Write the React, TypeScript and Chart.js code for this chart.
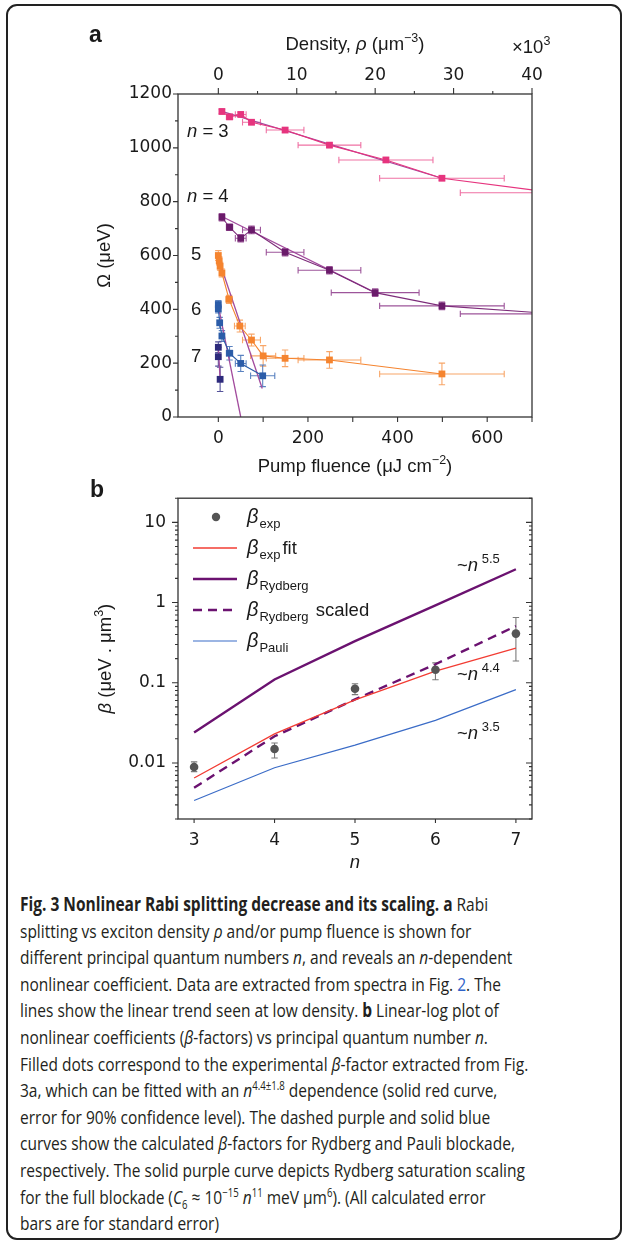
import React, { useEffect, useRef } from "react";
import { Chart, registerables } from "chart.js";
Chart.register(...registerables);

// ---------------- Panel a : Rabi splitting vs pump fluence ----------------
const fluenceMin = -90;
const fluenceMax = 700;
const densityMax = 40; // x10^3 µm^-3 at fluenceMax
const fluenceTicks = [0, 200, 400, 600];
const densityTicks = [0, 10, 20, 30, 40];
const omegaTicks = [0, 200, 400, 600, 800, 1000, 1200];

const n3Fluence = [8, 25, 50, 74, 149, 248, 374, 499, 750];
const n3Omega = [1135, 1115, 1124, 1095, 1066, 1010, 955, 887, 833];
const n3FluenceErr = [2, 7, 12, 20, 42, 70, 105, 139, 210];
const n3OmegaErr = [8, 8, 8, 8, 8, 8, 8, 8, 8];
const n3TrendFluence = [8, 499];
const n3TrendOmega = [1135, 887];

const n4Fluence = [8, 25, 50, 74, 149, 248, 350, 499, 750];
const n4Omega = [742, 705, 664, 695, 612, 545, 462, 413, 383];
const n4FluenceErr = [2, 7, 12, 20, 42, 70, 98, 139, 210];
const n4OmegaErr = [14, 12, 14, 14, 14, 14, 14, 14, 14];
const n4TrendFluence = [8, 350];
const n4TrendOmega = [745, 462];

const n5Fluence = [0, 2, 4, 8, 24, 48, 74, 100, 149, 248, 499];
const n5Omega = [600, 580, 560, 535, 437, 338, 286, 227, 218, 212, 160];
const n5FluenceErr = [0, 0, 0, 2, 7, 12, 20, 28, 42, 70, 139];
const n5OmegaErr = [18, 15, 15, 15, 15, 22, 22, 38, 31, 31, 40];
const n5TrendFluence = [0, 98];
const n5TrendOmega = [590, 106];

const n6Fluence = [0, 0, 3, 8, 25, 50, 99];
const n6Omega = [418, 402, 350, 301, 237, 199, 153];
const n6FluenceErr = [0, 0, 0, 2, 7, 12, 27];
const n6OmegaErr = [15, 15, 20, 20, 25, 30, 40];
const n6TrendFluence = [0, 50];
const n6TrendOmega = [412, 0];

const n7Fluence = [0, 0, 4];
const n7Omega = [259, 224, 140];
const n7OmegaErr = [20, 35, 45];
const n7TrendFluence = [0, 4];
const n7TrendOmega = [262, 140];

// ---------------- Panel b : beta factors vs n ----------------
const nTicks = [3, 4, 5, 6, 7];
const betaTicks = [0.01, 0.1, 1, 10];
const nValues = [3, 4, 5, 6, 7];
const betaExp = [0.0089, 0.0149, 0.084, 0.145, 0.41];
const betaExpLow = [0.0078, 0.0115, 0.071, 0.109, 0.187];
const betaExpHigh = [0.0103, 0.0177, 0.097, 0.177, 0.65];
const betaExpFit = [0.0065, 0.023, 0.061, 0.14, 0.27];
const betaRydberg = [0.024, 0.11, 0.33, 0.92, 2.6];
const betaRydbergScaled = [0.0049, 0.0215, 0.062, 0.17, 0.51];
const betaPauli = [0.0034, 0.0087, 0.0167, 0.034, 0.082];

// ---------------- layout / style ----------------
const W = 625;
const A_H = 490;
const A_AREA = { left: 178, right: 532, top: 94, bottom: 417 };
const B_TOP = 476;
const B_H = 400;
const B_AREA = { left: 178, right: 532, top: 496 - B_TOP, bottom: 819 - B_TOP };

const TXT = "#1a1a1a";
const AXIS = "#333333";
const TICK_FONT = { family: "'DejaVu Sans'", size: 17 };
const F = "18.5px 'Liberation Sans'";
const FI = "italic 18.5px 'Liberation Sans'";
const FS = "12.5px 'Liberation Sans'";
const FB = "italic 20px 'Liberation Sans'";
const FSUB = "13px 'Liberation Sans'";

const PINK = "#e6347e";
const PINK_ERR = "#ef72a4";
const PURPLE4 = "#6a1b6a";
const PURPLE4_LINE = "#7d2c7a";
const PURPLE4_ERR = "#9d559a";
const ORANGE = "#f5842f";
const ORANGE_ERR = "#f8a668";
const BLUE6 = "#2b5ca8";
const BLUE6_ERR = "#5a82c0";
const NAVY7 = "#2d2a7c";
const NAVY7_ERR = "#55539a";
const TREND = "#a24b9d";

const RED = "#f23c33";
const RYD = "#6b1270";
const PAULI = "#3b6cc7";
const DOT = "#555555";
const DOT_ERR = "#7a7a7a";

type Seg = [string, string, number?];

function drawRich(ctx: CanvasRenderingContext2D, segs: Seg[], x: number, y: number, align: "left" | "center") {
  let total = 0;
  for (const s of segs) {
    ctx.font = s[1];
    total += ctx.measureText(s[0]).width;
  }
  let cx = align === "center" ? x - total / 2 : x;
  ctx.textAlign = "left";
  for (const s of segs) {
    ctx.font = s[1];
    ctx.fillText(s[0], cx, y + (s[2] || 0));
    cx += ctx.measureText(s[0]).width;
  }
}

function pts(xs: number[], ys: number[]) {
  return xs.map((x, i) => ({ x, y: ys[i] }));
}

function drawErrorBars(chart: any) {
  const ctx: CanvasRenderingContext2D = chart.ctx;
  const { left, right, top, bottom } = chart.chartArea;
  ctx.save();
  ctx.beginPath();
  ctx.rect(left, top, right - left, bottom - top);
  ctx.clip();
  chart.data.datasets.forEach((ds: any) => {
    if (!ds.errY && !ds.errX && !ds.errLow) return;
    const xs = chart.scales[ds.xAxisID || "x"];
    const ys = chart.scales[ds.yAxisID || "y"];
    ctx.strokeStyle = ds.errColor;
    ctx.lineWidth = 1.1;
    const cap = 3.2;
    ds.data.forEach((p: any, i: number) => {
      const px = xs.getPixelForValue(p.x);
      const py = ys.getPixelForValue(p.y);
      let lo: number | undefined;
      let hi: number | undefined;
      if (ds.errY) {
        lo = p.y - ds.errY[i];
        hi = p.y + ds.errY[i];
      } else if (ds.errLow) {
        lo = ds.errLow[i];
        hi = ds.errHigh[i];
      }
      ctx.beginPath();
      if (lo !== undefined && hi !== undefined && hi > lo) {
        const y1 = ys.getPixelForValue(lo);
        const y2 = ys.getPixelForValue(hi);
        ctx.moveTo(px, y1);
        ctx.lineTo(px, y2);
        ctx.moveTo(px - cap, y1);
        ctx.lineTo(px + cap, y1);
        ctx.moveTo(px - cap, y2);
        ctx.lineTo(px + cap, y2);
      }
      if (ds.errX && ds.errX[i] > 0) {
        const x1 = xs.getPixelForValue(p.x - ds.errX[i]);
        const x2 = xs.getPixelForValue(p.x + ds.errX[i]);
        ctx.moveTo(x1, py);
        ctx.lineTo(x2, py);
        ctx.moveTo(x1, py - cap);
        ctx.lineTo(x1, py + cap);
        ctx.moveTo(x2, py - cap);
        ctx.lineTo(x2, py + cap);
      }
      ctx.stroke();
    });
  });
  ctx.restore();
}

const tickOpts = (padding: number) => ({
  font: TICK_FONT,
  color: TXT,
  padding,
  maxRotation: 0,
  minRotation: 0,
  autoSkip: false,
  callback: (v: any) => String(v),
});
const noGrid = { display: false, drawTicks: false, tickLength: 0 };

function squareMarkers(color: string) {
  return {
    pointStyle: "rect",
    pointRadius: 4.8,
    pointBackgroundColor: color,
    pointBorderColor: color,
    pointBorderWidth: 0,
  };
}

function trendLine(xs: number[], ys: number[]) {
  return {
    data: pts(xs, ys),
    showLine: true,
    borderColor: TREND,
    borderWidth: 1.3,
    pointRadius: 0,
    clip: 0,
  };
}

const panelAPlugin = {
  id: "panelA",
  beforeDatasetsDraw(chart: any) {
    drawErrorBars(chart);
  },
  afterDraw(chart: any) {
    const ctx: CanvasRenderingContext2D = chart.ctx;
    const { left, right, top, bottom } = chart.chartArea;
    const xs = chart.scales.x;
    const x2 = chart.scales.x2;
    const ys = chart.scales.y;
    ctx.save();
    ctx.strokeStyle = AXIS;
    ctx.lineWidth = 1.3;
    ctx.strokeRect(left, top, right - left, bottom - top);
    ctx.lineWidth = 1.1;
    ctx.beginPath();
    for (let v = 0; v <= fluenceMax; v += 100) {
      const p = xs.getPixelForValue(v);
      ctx.moveTo(p, bottom);
      ctx.lineTo(p, bottom + 5);
    }
    for (let v = 0; v <= densityMax; v += 5) {
      const p = x2.getPixelForValue(v);
      const len = v % 10 === 0 ? 6 : 3;
      ctx.moveTo(p, top);
      ctx.lineTo(p, top - len);
    }
    for (let v = 0; v <= 1200; v += 100) {
      const p = ys.getPixelForValue(v);
      const len = v % 200 === 0 ? 5 : 3;
      ctx.moveTo(left, p);
      ctx.lineTo(left - len, p);
    }
    ctx.stroke();

    ctx.fillStyle = TXT;
    ctx.textBaseline = "alphabetic";
    ctx.font = "bold 23px 'Liberation Sans'";
    ctx.textAlign = "left";
    ctx.fillText("a", 89, 42);
    const cx = (left + right) / 2;
    drawRich(ctx, [["Density, ", F], ["ρ", FI], [" (μm", F], ["−3", FS, -8], [")", F]], cx, 50, "center");
    drawRich(ctx, [["×10", F], ["3", FS, -8]], 512, 53, "left");
    drawRich(ctx, [["Pump fluence (μJ cm", F], ["−2", FS, -8], [")", F]], cx, 472, "center");
    ctx.save();
    ctx.translate(110, (top + bottom) / 2);
    ctx.rotate(-Math.PI / 2);
    drawRich(ctx, [["Ω (μeV)", F]], 0, 0, "center");
    ctx.restore();
    drawRich(ctx, [["n", FI], [" = 3", F]], 187, 137, "left");
    drawRich(ctx, [["n", FI], [" = 4", F]], 187, 202, "left");
    drawRich(ctx, [["5", F]], 191, 260, "left");
    drawRich(ctx, [["6", F]], 191, 315, "left");
    drawRich(ctx, [["7", F]], 191, 362, "left");
    ctx.restore();
  },
};

function drawBetaLabel(ctx: CanvasRenderingContext2D, sub: string, after: string, x: number, yc: number) {
  const base = yc + 6;
  ctx.font = FB;
  ctx.fillText("β", x, base);
  let cx = x + ctx.measureText("β").width + 1;
  ctx.font = FSUB;
  ctx.fillText(sub, cx, base + 5);
  cx += ctx.measureText(sub).width + 2;
  if (after) {
    ctx.font = F;
    ctx.fillText(after, cx, base);
  }
}

const panelBPlugin = {
  id: "panelB",
  beforeDatasetsDraw(chart: any) {
    drawErrorBars(chart);
  },
  afterDraw(chart: any) {
    const ctx: CanvasRenderingContext2D = chart.ctx;
    const { left, right, top, bottom } = chart.chartArea;
    const xs = chart.scales.x;
    const ys = chart.scales.y;
    ctx.save();
    ctx.strokeStyle = AXIS;
    ctx.lineWidth = 1.3;
    ctx.strokeRect(left, top, right - left, bottom - top);
    ctx.lineWidth = 1.1;
    ctx.beginPath();
    nTicks.forEach((v) => {
      const p = xs.getPixelForValue(v);
      ctx.moveTo(p, bottom);
      ctx.lineTo(p, bottom + 4);
    });
    [0.001, 0.01, 0.1, 1, 10].forEach((dec) => {
      for (let m = 1; m <= 9; m++) {
        const v = dec * m;
        if (v < ys.min * 0.999 || v > ys.max * 1.001) continue;
        const p = ys.getPixelForValue(v);
        const len = m === 1 ? 6 : 3;
        ctx.moveTo(left, p);
        ctx.lineTo(left - len, p);
        ctx.moveTo(right, p);
        ctx.lineTo(right - len, p);
      }
    });
    ctx.stroke();

    ctx.fillStyle = TXT;
    ctx.textBaseline = "alphabetic";
    ctx.textAlign = "left";
    ctx.font = "bold 23px 'Liberation Sans'";
    ctx.fillText("b", 90, 497 - B_TOP);

    // legend
    const rows = [517, 548, 579, 610, 641].map((y) => y - B_TOP);
    ctx.fillStyle = DOT;
    ctx.beginPath();
    ctx.arc(216, rows[0], 4.2, 0, Math.PI * 2);
    ctx.fill();
    const sample = (y: number, color: string, w: number, dash: number[]) => {
      ctx.save();
      ctx.strokeStyle = color;
      ctx.lineWidth = w;
      ctx.setLineDash(dash);
      ctx.beginPath();
      ctx.moveTo(193, y);
      ctx.lineTo(237, y);
      ctx.stroke();
      ctx.restore();
    };
    sample(rows[1], RED, 1.3, []);
    sample(rows[2], RYD, 2.4, []);
    sample(rows[3], RYD, 2.4, [9, 6]);
    sample(rows[4], PAULI, 1.2, []);
    ctx.fillStyle = TXT;
    drawBetaLabel(ctx, "exp", "", 247, rows[0]);
    drawBetaLabel(ctx, "exp", "fit", 247, rows[1]);
    drawBetaLabel(ctx, "Rydberg", "", 247, rows[2]);
    drawBetaLabel(ctx, "Rydberg", " scaled", 247, rows[3]);
    drawBetaLabel(ctx, "Pauli", "", 247, rows[4]);

    // scaling annotations
    drawRich(ctx, [["~", F], ["n", FI], [" 5.5", "13px 'Liberation Sans'", -8]], 457, 571 - B_TOP, "left");
    drawRich(ctx, [["~", F], ["n", FI], [" 4.4", "13px 'Liberation Sans'", -8]], 457, 680 - B_TOP, "left");
    drawRich(ctx, [["~", F], ["n", FI], [" 3.5", "13px 'Liberation Sans'", -8]], 457, 739 - B_TOP, "left");

    // axis titles
    ctx.save();
    ctx.translate(111, (top + bottom) / 2);
    ctx.rotate(-Math.PI / 2);
    drawRich(ctx, [["β", FI], [" (μeV . μm", F], ["3", FS, -8], [")", F]], 0, 0, "center");
    ctx.restore();
    drawRich(ctx, [["n", FI]], (left + right) / 2, 868 - B_TOP, "center");
    ctx.restore();
  },
};

function makeConfigA(): any {
  return {
    type: "scatter",
    data: {
      datasets: [
        {
          data: pts(n3Fluence, n3Omega),
          showLine: true,
          borderColor: PINK,
          borderWidth: 1.1,
          ...squareMarkers(PINK),
          errX: n3FluenceErr,
          errY: n3OmegaErr,
          errColor: PINK_ERR,
          clip: 0,
        },
        {
          data: pts(n4Fluence, n4Omega),
          showLine: true,
          borderColor: PURPLE4_LINE,
          borderWidth: 1.1,
          ...squareMarkers(PURPLE4),
          errX: n4FluenceErr,
          errY: n4OmegaErr,
          errColor: PURPLE4_ERR,
          clip: 0,
        },
        {
          data: pts(n5Fluence, n5Omega),
          showLine: true,
          borderColor: ORANGE,
          borderWidth: 1.1,
          ...squareMarkers(ORANGE),
          errX: n5FluenceErr,
          errY: n5OmegaErr,
          errColor: ORANGE_ERR,
          clip: 0,
        },
        {
          data: pts(n6Fluence, n6Omega),
          showLine: true,
          borderColor: BLUE6,
          borderWidth: 1.1,
          ...squareMarkers(BLUE6),
          errX: n6FluenceErr,
          errY: n6OmegaErr,
          errColor: BLUE6_ERR,
          clip: 0,
        },
        {
          data: pts(n7Fluence, n7Omega),
          showLine: false,
          ...squareMarkers(NAVY7),
          errY: n7OmegaErr,
          errColor: NAVY7_ERR,
          clip: 0,
        },
        trendLine(n3TrendFluence, n3TrendOmega),
        trendLine(n4TrendFluence, n4TrendOmega),
        trendLine(n5TrendFluence, n5TrendOmega),
        trendLine(n6TrendFluence, n6TrendOmega),
        trendLine(n7TrendFluence, n7TrendOmega),
      ],
    },
    options: {
      responsive: false,
      animation: false,
      devicePixelRatio: 1,
      events: [],
      layout: { padding: { left: 0, right: W - A_AREA.right, top: 0, bottom: 0 } },
      plugins: { legend: { display: false }, tooltip: { enabled: false } },
      scales: {
        x: {
          type: "linear",
          position: "bottom",
          min: fluenceMin,
          max: fluenceMax,
          bounds: "data",
          grid: noGrid,
          border: { display: false },
          ticks: tickOpts(11),
          afterBuildTicks: (s: any) => {
            s.ticks = fluenceTicks.map((value) => ({ value }));
          },
          afterFit: (s: any) => {
            s.height = A_H - A_AREA.bottom;
          },
        },
        x2: {
          type: "linear",
          position: "top",
          min: (fluenceMin * densityMax) / fluenceMax,
          max: densityMax,
          bounds: "data",
          grid: noGrid,
          border: { display: false },
          ticks: tickOpts(8),
          afterBuildTicks: (s: any) => {
            s.ticks = densityTicks.map((value) => ({ value }));
          },
          afterFit: (s: any) => {
            s.height = A_AREA.top;
          },
        },
        y: {
          type: "linear",
          position: "left",
          min: 0,
          max: 1200,
          bounds: "data",
          grid: noGrid,
          border: { display: false },
          ticks: tickOpts(6),
          afterBuildTicks: (s: any) => {
            s.ticks = omegaTicks.map((value) => ({ value }));
          },
          afterFit: (s: any) => {
            s.width = A_AREA.left;
          },
        },
      },
    },
    plugins: [panelAPlugin],
  };
}

function makeConfigB(): any {
  const lineDs = (vals: number[], color: string, width: number, dash: number[]) => ({
    data: pts(nValues, vals),
    showLine: true,
    borderColor: color,
    borderWidth: width,
    borderDash: dash,
    pointRadius: 0,
    clip: 0,
  });
  return {
    type: "scatter",
    data: {
      datasets: [
        {
          data: pts(nValues, betaExp),
          showLine: false,
          pointStyle: "circle",
          pointRadius: 4.3,
          pointBackgroundColor: DOT,
          pointBorderColor: DOT,
          pointBorderWidth: 0,
          errLow: betaExpLow,
          errHigh: betaExpHigh,
          errColor: DOT_ERR,
          clip: 0,
        },
        lineDs(betaExpFit, RED, 1.3, []),
        lineDs(betaRydberg, RYD, 2.4, []),
        lineDs(betaRydbergScaled, RYD, 2.4, [9, 6]),
        lineDs(betaPauli, PAULI, 1.2, []),
      ],
    },
    options: {
      responsive: false,
      animation: false,
      devicePixelRatio: 1,
      events: [],
      layout: { padding: { left: 0, right: W - B_AREA.right, top: B_AREA.top, bottom: 0 } },
      plugins: { legend: { display: false }, tooltip: { enabled: false } },
      scales: {
        x: {
          type: "linear",
          position: "bottom",
          min: 2.8,
          max: 7.2,
          bounds: "data",
          grid: noGrid,
          border: { display: false },
          ticks: tickOpts(11),
          afterBuildTicks: (s: any) => {
            s.ticks = nTicks.map((value) => ({ value }));
          },
          afterFit: (s: any) => {
            s.height = B_H - B_AREA.bottom;
          },
        },
        y: {
          type: "logarithmic",
          position: "left",
          min: 0.002,
          max: 20,
          bounds: "data",
          grid: noGrid,
          border: { display: false },
          ticks: tickOpts(12),
          afterBuildTicks: (s: any) => {
            s.ticks = betaTicks.map((value) => ({ value }));
          },
          afterFit: (s: any) => {
            s.width = B_AREA.left;
          },
        },
      },
    },
    plugins: [panelBPlugin],
  };
}

const sup: React.CSSProperties = { fontSize: "0.62em", verticalAlign: "super", lineHeight: 0 };
const sub: React.CSSProperties = { fontSize: "0.62em", verticalAlign: "sub", lineHeight: 0 };

export default function App() {
  const aRef = useRef<HTMLCanvasElement>(null);
  const bRef = useRef<HTMLCanvasElement>(null);
  const capRef = useRef<HTMLDivElement>(null);
  const measureRef = useRef<HTMLSpanElement>(null);

  useEffect(() => {
    const ca = new Chart(aRef.current as HTMLCanvasElement, makeConfigA());
    const cb = new Chart(bRef.current as HTMLCanvasElement, makeConfigB());
    return () => {
      ca.destroy();
      cb.destroy();
    };
  }, []);

  useEffect(() => {
    const m = measureRef.current;
    const c = capRef.current;
    if (m && c) {
      const w = m.offsetWidth;
      if (w > 0) c.style.transform = `scaleX(${492 / w})`;
    }
  }, []);

  const lineStyle: React.CSSProperties = { height: 26.6, whiteSpace: "nowrap" };

  return (
    <div style={{ position: "absolute", left: 0, top: 0, width: W, height: 1248, background: "#fff", overflow: "hidden" }}>
      <div
        style={{
          position: "absolute",
          left: 6,
          top: 4,
          width: 616,
          height: 1236,
          boxSizing: "border-box",
          border: "2px solid #222",
          borderRadius: 11,
        }}
      />
      <canvas ref={aRef} width={W} height={A_H} style={{ position: "absolute", left: 0, top: 0, width: W, height: A_H }} />
      <canvas ref={bRef} width={W} height={B_H} style={{ position: "absolute", left: 0, top: B_TOP, width: W, height: B_H }} />
      <div
        ref={capRef}
        style={{
          position: "absolute",
          left: 20,
          top: 891,
          width: 800,
          fontFamily: "'Open Sans', sans-serif",
          fontSize: 19,
          lineHeight: "26.6px",
          color: "#231f20",
          transformOrigin: "left top",
          transform: "scaleX(0.7)",
        }}
      >
        <div style={lineStyle}>
          <b>Fig. 3 Nonlinear Rabi splitting decrease and its scaling. a</b> Rabi
        </div>
        <div style={lineStyle}>
          splitting vs exciton density <i>ρ</i> and/or pump fluence is shown for
        </div>
        <div style={lineStyle}>
          <span ref={measureRef}>
            different principal quantum numbers <i>n</i>, and reveals an <i>n</i>-dependent
          </span>
        </div>
        <div style={lineStyle}>
          nonlinear coefficient. Data are extracted from spectra in Fig. <span style={{ color: "#2f62c8" }}>2</span>. The
        </div>
        <div style={lineStyle}>
          lines show the linear trend seen at low density. <b>b</b> Linear-log plot of
        </div>
        <div style={lineStyle}>
          nonlinear coefficients (<i>β</i>-factors) vs principal quantum number <i>n</i>.
        </div>
        <div style={lineStyle}>
          Filled dots correspond to the experimental <i>β</i>-factor extracted from Fig.
        </div>
        <div style={lineStyle}>
          3a, which can be fitted with an <i>n</i>
          <span style={sup}>4.4±1.8</span> dependence (solid red curve,
        </div>
        <div style={lineStyle}>error for 90% confidence level). The dashed purple and solid blue</div>
        <div style={lineStyle}>
          curves show the calculated <i>β</i>-factors for Rydberg and Pauli blockade,
        </div>
        <div style={lineStyle}>respectively. The solid purple curve depicts Rydberg saturation scaling</div>
        <div style={lineStyle}>
          for the full blockade (<i>C</i>
          <span style={sub}>6</span> ≈ 10<span style={sup}>−15</span> <i>n</i>
          <span style={sup}>11</span> meV μm<span style={sup}>6</span>). (All calculated error
        </div>
        <div style={lineStyle}>bars are for standard error)</div>
      </div>
    </div>
  );
}
